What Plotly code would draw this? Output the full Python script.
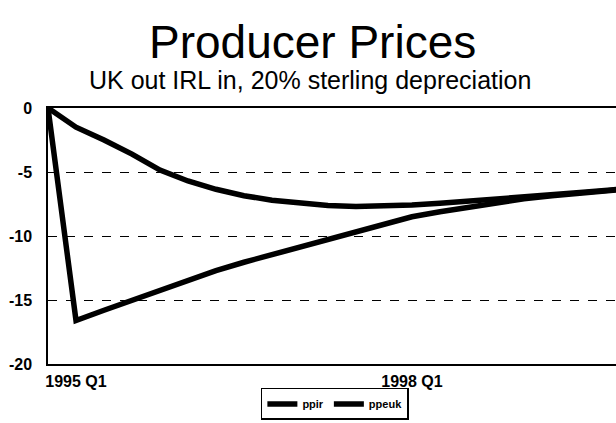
import plotly.graph_objects as go

quarters = ["1994 Q4"] + [f"{y} Q{q}" for y in range(1995, 2000) for q in range(1, 5)] + ["2000 Q1"]

ppir = [0, -16.6, -15.8, -15.0, -14.2, -13.4, -12.7, -12.05, -11.45, -10.85, -10.25,
        -9.6, -9.0, -8.5, -8.1, -7.75, -7.4, -7.1, -6.85, -6.65, -6.45, -6.27]
ppeuk = [0, -1.5, -2.5, -3.6, -4.85, -5.7, -6.35, -6.85, -7.2, -7.45, -7.62,
         -7.7, -7.68, -7.58, -7.45, -7.3, -7.12, -6.95, -6.78, -6.6, -6.42, -6.25]

ytick_vals = [0, -5, -10, -15, -20]
ytick_text = ["0", "-5", "-10", "-15", "-20"]
xtick_vals = ["1995 Q1", "1998 Q1"]

fig = go.Figure()
fig.add_trace(go.Scatter(x=quarters, y=ppir, name="<b>ppir</b>", mode="lines",
                         line=dict(color="black", width=5.5)))
fig.add_trace(go.Scatter(x=quarters, y=ppeuk, name="<b>ppeuk</b>", mode="lines",
                         line=dict(color="black", width=5.5)))

# wider than the window on purpose: the chart runs off the right edge
fig.update_layout(
    width=700, height=423,
    paper_bgcolor="white", plot_bgcolor="white",
    margin=dict(l=48, r=0, t=108, b=59),
    font=dict(family="Liberation Sans, Arial", color="black"),
    showlegend=True,
    legend=dict(orientation="h", x=0.44, xanchor="center", y=-0.156, yanchor="middle",
                bordercolor="black", borderwidth=1.5,
                font=dict(size=11, family="Liberation Sans, Arial"),
                itemwidth=30, tracegroupgap=0),
    annotations=[
        dict(text="Producer Prices", x=0.406, y=1, xref="paper", yref="paper", yanchor="middle",
             yshift=66, showarrow=False, font=dict(size=46)),
        dict(text="UK out IRL in, 20% sterling depreciation", x=0.402, y=1, xref="paper", yref="paper",
             yanchor="middle", yshift=28, showarrow=False, font=dict(size=25)),
    ],
)

fig.update_xaxes(type="category", tickvals=xtick_vals, ticktext=["<b>1995 Q1</b>", "<b>1998 Q1</b>"],
                 range=[0, 23.29], showline=True, linecolor="black", linewidth=2, mirror=True,
                 showgrid=False, ticks="", tickfont=dict(size=16), ticklabelstandoff=2)
fig.update_yaxes(range=[-20, 0], tickvals=ytick_vals, ticktext=[f"<b>{t}</b>" for t in ytick_text],
                 showline=True, linecolor="black", linewidth=1.5,
                 showgrid=True, gridcolor="black", gridwidth=1, griddash="dash",
                 zeroline=False, ticks="", tickfont=dict(size=16), ticklabelstandoff=11)

# no page margin / scrollbars so the figure sits flush in the window
fig.write_html("out.html", config={"displayModeBar": False},
               post_script="document.body.style.margin='0';"
               "document.body.style.overflow='hidden';"
               "document.documentElement.style.overflow='hidden';")
